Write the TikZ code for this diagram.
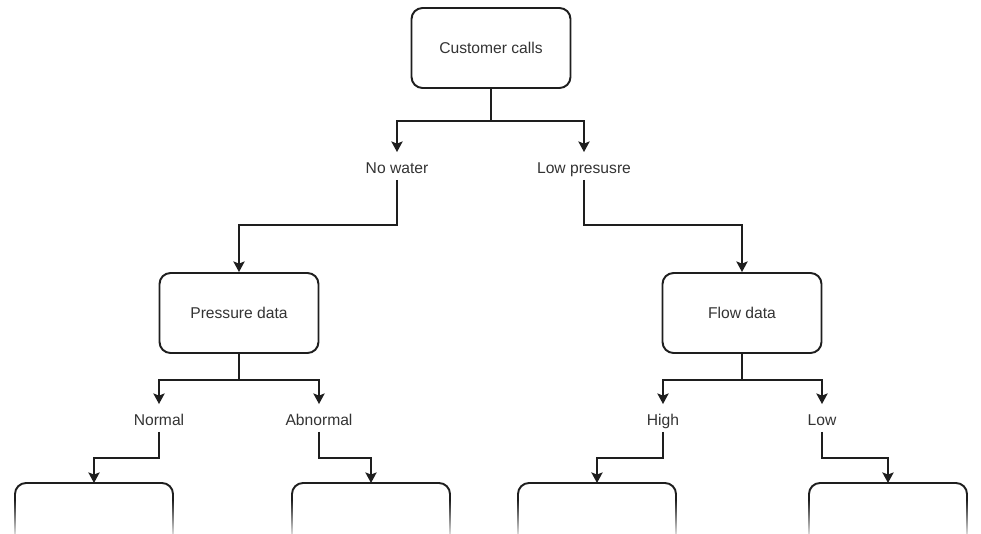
\documentclass[tikz,border=0pt]{standalone}
\usepackage{fontspec}
\setmainfont{Liberation Sans}
\usetikzlibrary{arrows.meta,fadings,calc}
\definecolor{txt}{HTML}{333333}
\definecolor{ln}{HTML}{1E1E1E}
\tikzset{
  box/.style={draw=ln, line width=1.1pt, rounded corners=0.22cm, minimum width=3.18cm, minimum height=1.6cm, inner sep=0pt, text=txt, font=\fontsize{8.9pt}{10pt}\selectfont},
  lbl/.style={inner xsep=0pt, inner ysep=3.4pt, text height=8.7pt, text depth=0pt, text=txt, font=\fontsize{8.9pt}{10pt}\selectfont},
  conn/.style={draw=ln, line width=1.1pt, -{Stealth[length=6pt,width=6.4pt,inset=1.2pt]}},
  openbox/.style={draw=ln, line width=1.1pt, rounded corners=0.22cm}
}
\begin{document}
\begin{tikzpicture}[x=0.02cm,y=-0.02cm]
\useasboundingbox (0,0) rectangle (981,534);
% main boxes
\node[box] (cc) at (491,48) {Customer calls};
\node[box] (pd) at (239,313) {Pressure data};
\node[box] (fd) at (742,313) {Flow data};
% labels
\node[lbl] (nw) at (397,166) {No water};
\node[lbl] (lp) at (584,166) {Low presusre};
\node[lbl] (nm) at (159,418) {Normal};
\node[lbl] (ab) at (319,418) {Abnormal};
\node[lbl] (hi) at (663,418) {High};
\node[lbl] (lo) at (822,418) {Low};
% bottom (cut) boxes
\coordinate (b1) at (94,483);
\coordinate (b2) at (371,483);
\coordinate (b3) at (597,483);
\coordinate (b4) at (888,483);
\foreach \c in {b1,b2,b3,b4}{
  \draw[openbox] ($(\c)+(-79,60)$) -- ($(\c)+(-79,0)$) -- ($(\c)+(79,0)$) -- ($(\c)+(79,60)$);
}
% connectors
\draw[conn] (cc.south) -- ++(0,32) -| (nw.north);
\draw[conn] (cc.south) -- ++(0,32) -| (lp.north);
\draw[conn] (nw.south) -- ++(0,45) -| (pd.north);
\draw[conn] (lp.south) -- ++(0,45) -| (fd.north);
\draw[conn] (pd.south) -- ++(0,26) -| (nm.north);
\draw[conn] (pd.south) -- ++(0,26) -| (ab.north);
\draw[conn] (fd.south) -- ++(0,26) -| (hi.north);
\draw[conn] (fd.south) -- ++(0,26) -| (lo.north);
\draw[conn] (nm.south) -- ++(0,26) -| (b1);
\draw[conn] (ab.south) -- ++(0,26) -| (b2);
\draw[conn] (hi.south) -- ++(0,26) -| (b3);
\draw[conn] (lo.south) -- ++(0,26) -| (b4);
% fade-out at the bottom
\fill[white, path fading=north] (0,500) rectangle (981,540);
\end{tikzpicture}
\end{document}
